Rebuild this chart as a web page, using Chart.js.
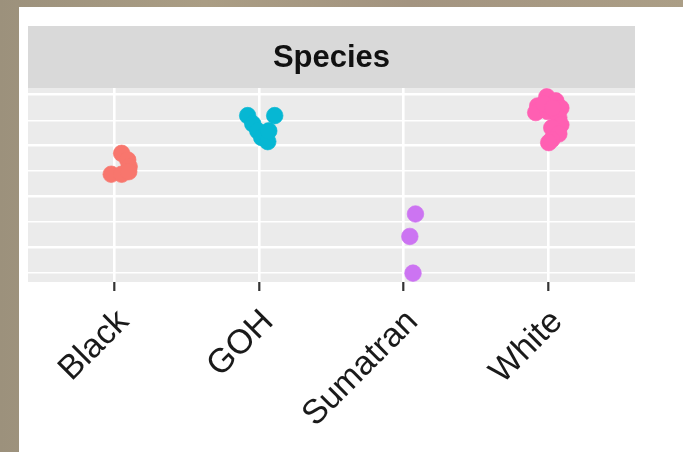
<!DOCTYPE html>
<html>
<head>
<meta charset="utf-8">
<script src="https://cdn.jsdelivr.net/npm/chart.js@4.4.1/dist/chart.umd.min.js"></script>
<style>
  html, body { margin: 0; padding: 0; }
  body {
    width: 683px; height: 452px; overflow: hidden;
    background: linear-gradient(90deg, #9c917c 0%, #aa9d84 30%, #a39480 60%, #ab9e86 100%);
  }
  canvas { display: block; }
</style>
</head>
<body>
<canvas id="c" width="683" height="452"></canvas>
<script>
// Species along the x axis
const categories = ['Black', 'GOH', 'Sumatran', 'White'];
const stripTitle = 'Species';

// Measured values per species
const blackValues    = [28.5, 27.2, 25.9, 24.4, 24.4, 24.9];
const gohValues      = [35.9, 34.3, 32.9, 31.6, 30.8, 32.9, 35.9];
const sumatranValues = [16.6, 12.2, 5.0];
const whiteValues    = [39.6, 37.8, 36.5, 38.8, 37.4, 36.7, 35.5, 34.1, 33.5, 32.3, 31.2, 30.6, 38.2, 37.4];

// Horizontal jitter applied to each point (in category units)
const blackJitter    = [0.048, 0.090, 0.100, -0.024, 0.048, 0.097];
const gohJitter      = [-0.080, -0.045, -0.010, 0.017, 0.059, 0.066, 0.107];
const sumatranJitter = [0.081, 0.042, 0.064];
const whiteJitter    = [-0.010, -0.073, -0.087, 0.052, 0.087, -0.003, 0.073, 0.087, 0.024, 0.073, 0.024, 0.003, -0.031, 0.031];

// Gridline positions on the value axis (multiples of 10 are major)
const yGridValues = [5, 10, 15, 20, 25, 30, 35, 40];

const seriesValues = [blackValues, gohValues, sumatranValues, whiteValues];
const seriesJitter = [blackJitter, gohJitter, sumatranJitter, whiteJitter];
const colours = ['#F8766D', '#06B7D3', '#CC74F2', '#FF5FB2'];

const datasets = categories.map((name, i) => ({
  label: name,
  data: seriesValues[i].map((v, j) => ({ x: i + 1 + seriesJitter[i][j], y: v })),
  backgroundColor: colours[i],
  borderColor: colours[i] + 'aa',
  borderWidth: 1,
  pointRadius: 8.3,
  pointHoverRadius: 8.3
}));

// Page panel, strip header and grey plotting panel
const panelPlugin = {
  id: 'panel',
  beforeDraw(chart) {
    const { ctx, chartArea: a } = chart;
    ctx.save();
    ctx.fillStyle = '#ffffff';
    ctx.fillRect(19, 7, chart.width - 19, chart.height - 7);
    ctx.fillStyle = '#ebebeb';
    ctx.fillRect(a.left, a.top, a.right - a.left, a.bottom - a.top);
    ctx.fillStyle = '#d9d9d9';
    ctx.fillRect(a.left, 26, a.right - a.left, a.top - 26);
    ctx.fillStyle = '#111111';
    ctx.font = 'bold 31px "Liberation Sans", Arial, sans-serif';
    ctx.textAlign = 'center';
    ctx.textBaseline = 'middle';
    ctx.fillText(stripTitle, (a.left + a.right) / 2, (26 + a.top) / 2 + 1);
    ctx.restore();
  }
};

new Chart(document.getElementById('c'), {
  type: 'scatter',
  data: { datasets },
  options: {
    responsive: false,
    animation: false,
    devicePixelRatio: 1,
    layout: { padding: { left: 28, right: 48, top: 88, bottom: 0 } },
    plugins: { legend: { display: false }, tooltip: { enabled: false } },
    scales: {
      x: {
        type: 'linear',
        min: 0.4,
        max: 4.6,
        afterBuildTicks(axis) { axis.ticks = categories.map((c, i) => ({ value: i + 1 })); },
        afterFit(axis) { axis.height = 170; },
        border: { display: false },
        grid: {
          color: '#ffffff',
          lineWidth: 2.6,
          drawTicks: true,
          tickLength: 9,
          tickColor: '#333333',
          tickWidth: 2.2
        },
        ticks: {
          autoSkip: false,
          maxRotation: 45,
          minRotation: 45,
          padding: 11,
          labelOffset: 9,
          color: '#1a1a1a',
          font: { family: '"Liberation Sans", Arial, sans-serif', size: 34 },
          callback: (v) => categories[Math.round(v) - 1]
        }
      },
      y: {
        type: 'linear',
        min: 3.26,
        max: 41.32,
        afterBuildTicks(axis) { axis.ticks = yGridValues.map(v => ({ value: v })); },
        afterFit(axis) { axis.width = 0; },
        border: { display: false },
        grid: {
          color: '#ffffff',
          drawTicks: false,
          lineWidth: (ctx) => (ctx.tick && ctx.tick.value % 10 === 0) ? 2.6 : 1.4
        },
        ticks: { display: false }
      }
    }
  },
  plugins: [panelPlugin]
});
</script>
</body>
</html>
